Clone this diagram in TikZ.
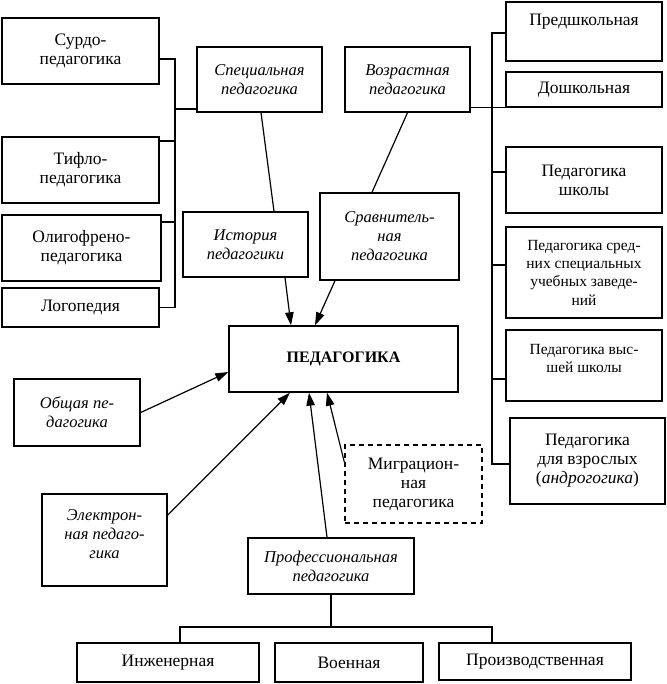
\documentclass[tikz,border=0pt]{standalone}
\usepackage{fontspec}
\setmainfont{Liberation Serif}
\usetikzlibrary{arrows.meta}

\tikzset{
    box/.style={draw, line width=1.4pt, align=center, inner sep=2pt},
    ibox/.style={box, font=\fontsize{16.5}{19}\selectfont\itshape},
    sbox/.style={box, font=\fontsize{15.5}{18.3}\selectfont},
    link/.style={line width=1.2pt},
    arr/.style={line width=1.2pt, -{Triangle[length=13pt,width=8.5pt]}}
}

\begin{document}
\begin{tikzpicture}[x=1pt, y=-1pt, font=\fontsize{17.5}{19}\selectfont]
    \useasboundingbox (0,0) rectangle (666,684);

    % left column
    \node[box, minimum width=157pt, minimum height=66pt] (surdo) at (80.5,51) {Сурдо-\\педагогика};
    \node[box, minimum width=157pt, minimum height=66pt] (tiflo) at (80.5,170) {Тифло-\\педагогика};
    \node[box, minimum width=159pt, minimum height=66pt] (oligo) at (81.5,248) {Олигофрено-\\педагогика};
    \node[box, minimum width=157pt, minimum height=39pt] (logo) at (80.5,307.5) {Логопедия};
    \node[ibox, minimum width=126pt, minimum height=67pt] (obsh) at (77,412.5) {Общая пе-\\дагогика};
    \node[ibox, minimum width=125pt, minimum height=92pt] (elek) at (104.5,540) {Электрон-\\ная педаго-\\гика\\[-8pt]};

    % middle
    \node[ibox, minimum width=125pt, minimum height=65pt] (spec) at (259.5,79.5) {Специальная\\педагогика};
    \node[ibox, minimum width=125pt, minimum height=65pt] (vozr) at (407.5,79.5) {Возрастная\\педагогика};
    \node[ibox, minimum width=125pt, minimum height=65pt] (hist) at (245.5,244.5) {История\\педагогики};
    \node[ibox, minimum width=139pt, minimum height=87pt] (sravn) at (389.5,236.5) {Сравнитель-\\ная\\педагогика};
    \node[box, minimum width=229pt, minimum height=66pt, font=\fontsize{16}{19}\selectfont\bfseries] (ped) at (343.5,359) {ПЕДАГОГИКА};
    \node[box, dash pattern=on 5pt off 4pt, minimum width=137pt, minimum height=78pt] (migr) at (413.5,484) {Миграцион-\\ная\\педагогика};
    \node[ibox, minimum width=166pt, minimum height=56pt] (prof) at (331,566) {Профессиональная\\педагогика};

    % right column
    \node[box, minimum width=156pt, minimum height=59pt, label={[anchor=north, yshift=-9pt]north:Предшкольная}] (predsh) at (584,31.5) {};
    \node[box, minimum width=156pt, minimum height=35pt] (dosh) at (584,89.5) {Дошкольная};
    \node[box, minimum width=156pt, minimum height=66pt] (shkol) at (584,180) {Педагогика\\школы};
    \node[sbox, minimum width=156pt, minimum height=91pt] (sred) at (584,272.5) {Педагогика сред-\\них специальных\\учебных заведе-\\ний};
    \node[sbox, minimum width=156pt, minimum height=71pt] (vyssh) at (584,365.5) {Педагогика выс-\\шей школы\\[-4pt]};
    \node[box, minimum width=155pt, minimum height=86pt] (vzr) at (587.5,461) {Педагогика\\для взрослых\\(\textit{андрогогика})};

    % bottom row
    \node[box, minimum width=182pt, minimum height=39pt] (ingen) at (168,662.5) {Инженерная};
    \node[box, minimum width=148pt, minimum height=39pt] (voen) at (349,662.5) {Военная};
    \node[box, minimum width=192pt, minimum height=37pt] (proizv) at (535,661.5) {Производственная};

    \coordinate (lbus) at (175,0);
    \coordinate (rbus) at (492,0);
    \coordinate (tree) at (331,627);

    % buses
    \draw[link] ([yshift=-8pt]surdo.east) -- ([yshift=-8pt]surdo.east -| lbus) -- (logo.east -| lbus) -- (logo.east);
    \foreach \n/\s in {tiflo/29pt, oligo/26pt}
        \draw[link] ([yshift=\s]\n.east) -- ([yshift=\s]\n.east -| lbus);
    \draw[link] ([yshift=-29.5pt]spec.west) -- ([yshift=-29.5pt]spec.west -| lbus);

    \draw[link] ([yshift=-1.5pt]predsh.west) -- ([yshift=-1.5pt]predsh.west -| rbus) -- ([yshift=-3pt]vzr.west -| rbus) -- ([yshift=-3pt]vzr.west);
    \foreach \n/\s in {shkol/8pt, sred/7.5pt, vyssh/-13.5pt}
        \draw[link] ([yshift=\s]\n.west) -- ([yshift=\s]\n.west -| rbus);
    \draw[link] ([yshift=5pt]vozr.south east) -- (dosh.south west);

    % lines and arrows
    \draw[link] ([xshift=1.5pt]spec.south) -- ([xshift=28.5pt]hist.north);
    \draw[link] (vozr.south) -- ([xshift=-17.5pt]sravn.north);
    \draw[arr] ([xshift=39.5pt]hist.south) -- ([xshift=-52.5pt]ped.north);
    \draw[arr] ([xshift=-54.5pt]sravn.south) -- ([xshift=-28.5pt]ped.north);
    \draw[arr] (obsh.east) -- ([yshift=-13pt]ped.west);
    \draw[arr] ([yshift=25pt]elek.east) -- ([xshift=-53.5pt]ped.south);
    \draw[arr] ([xshift=-4pt]prof.north) -- ([xshift=-34.5pt]ped.south);
    \draw[arr] ([yshift=22pt]migr.west) -- ([xshift=-16.5pt]ped.south);

    % tree
    \draw[link] (prof.south) -- (tree);
    \draw[link] ([xshift=12pt]ingen.north) |- (tree) -| ([xshift=-43pt]proizv.north);
\end{tikzpicture}
\end{document}
